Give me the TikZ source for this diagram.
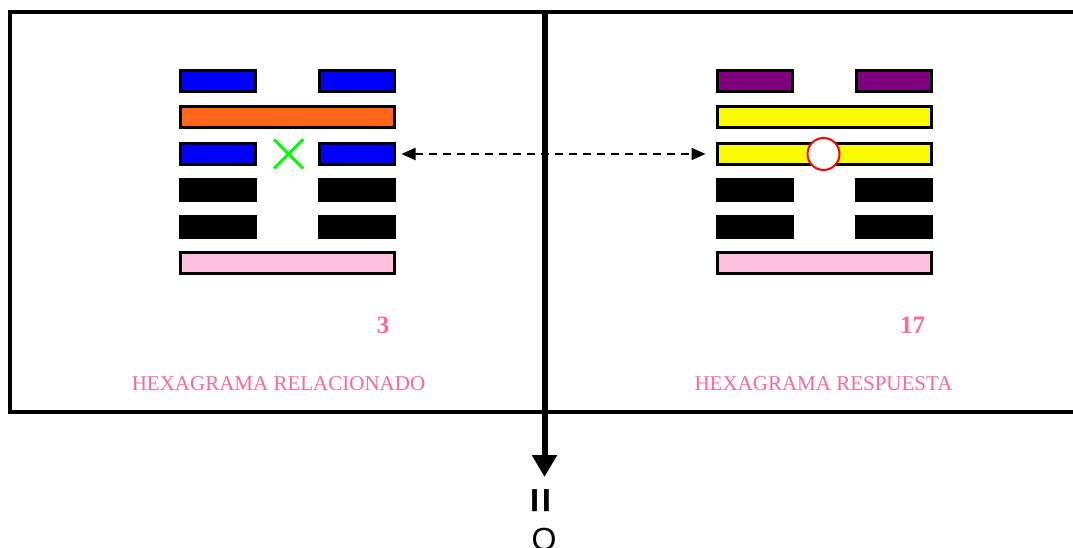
\documentclass[tikz,border=0pt]{standalone}
\usepackage{fontspec}
\setmainfont{Liberation Serif}
\setsansfont{Liberation Sans}
\usetikzlibrary{arrows.meta,shapes.misc}
\definecolor{hexblue}{RGB}{0,0,255}
\definecolor{hexorange}{RGB}{255,102,25}
\definecolor{hexpink}{RGB}{255,192,221}
\definecolor{hexpurple}{RGB}{128,0,128}
\definecolor{hexyellow}{RGB}{250,250,0}
\definecolor{hexgreen}{RGB}{0,255,0}
\definecolor{labelpink}{RGB}{255,102,153}
\tikzset{
  bar/.style={draw=black, line width=3pt, inner sep=0pt, outer sep=0pt, minimum height=21pt},
  halfbar/.style={bar, minimum width=75pt},
  fullbar/.style={bar, minimum width=214pt},
  caption/.style={text=labelpink, inner sep=0pt, font=\fontsize{21}{25}\selectfont},
  number/.style={text=labelpink, inner sep=0pt, font=\fontsize{25}{30}\selectfont\bfseries},
  dasharrow/.style={line width=2pt, dash pattern=on 8pt off 6pt},
}
\begin{document}
\begin{tikzpicture}[x=1pt,y=-1pt]
\useasboundingbox (0,0) rectangle (1073,548);
\clip (0,0) rectangle (1073,548);
% frame
\draw[line width=4pt] (9.5,12) rectangle (1090,412);
% left hexagram
\node[halfbar, fill=hexblue] (L1l) at (218,81) {};
\node[halfbar, fill=hexblue] (L1r) at (357,81) {};
\node[fullbar, fill=hexorange] (L2) at (287.5,117.5) {};
\node[halfbar, fill=hexblue] (L3l) at (218,154) {};
\node[halfbar, fill=hexblue] (L3r) at (357,154) {};
\node[halfbar, fill=black] (L4l) at (218,190) {};
\node[halfbar, fill=black] (L4r) at (357,190) {};
\node[halfbar, fill=black] (L5l) at (218,226.5) {};
\node[halfbar, fill=black] (L5r) at (357,226.5) {};
\node[fullbar, fill=hexpink] (L6) at (287.5,262.5) {};
\node[cross out, draw=hexgreen, line width=3pt, minimum size=26pt, inner sep=0pt] (X) at (288.5,154) {};
% right hexagram
\node[halfbar, fill=hexpurple] (R1l) at (755,81) {};
\node[halfbar, fill=hexpurple] (R1r) at (894,81) {};
\node[fullbar, fill=hexyellow] (R2) at (824.5,117.5) {};
\node[fullbar, fill=hexyellow] (R3) at (824.5,154) {};
\node[halfbar, fill=black] (R4l) at (755,190) {};
\node[halfbar, fill=black] (R4r) at (894,190) {};
\node[halfbar, fill=black] (R5l) at (755,226.5) {};
\node[halfbar, fill=black] (R5r) at (894,226.5) {};
\node[fullbar, fill=hexpink] (R6) at (824.5,262.5) {};
\node[circle, draw=red, fill=white, line width=2pt, minimum size=32pt, inner sep=0pt] (C) at (823.5,154) {};
% texts
\node[number] (n3) at (383,325.5) {3};
\node[number] (n17) at (912.5,325.5) {17};
\node[caption] (capL) at (278.5,383.5) {HEXAGRAMA RELACIONADO};
\node[caption] (capR) at (823.5,383.5) {HEXAGRAMA RESPUESTA};
% vertical arrow
\coordinate (vtop) at (544.5,12);
\coordinate (vtip) at (544.5,477);
\draw[line width=6pt, -{Triangle[width=24pt,length=22pt]}] (vtop) -- (vtip);
% dashed arrow
\draw[dasharrow, {Triangle[width=12pt,length=14pt]}-{Triangle[width=12pt,length=14pt]}, shorten <=7pt, shorten >=12pt] (L3r.east) -- (R3.west);
% result text
\node[inner sep=0pt, rotate=90, font=\sffamily\bfseries\fontsize{44}{50}\selectfont] (eq) at (544.5,501) {=};
\node[inner sep=0pt, font=\sffamily\fontsize{32}{36}\selectfont] (O) at (544,539.5) {O};
\end{tikzpicture}
\end{document}
